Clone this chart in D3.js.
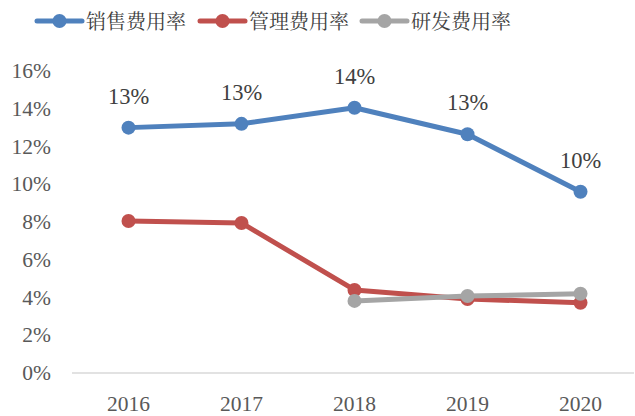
<!DOCTYPE html>
<html>
<head>
<meta charset="utf-8">
<script src="https://cdn.jsdelivr.net/npm/d3@7"></script>
</head>
<body style="margin:0">
<svg width="635" height="416" font-family="Liberation Serif" font-size="21"></svg>
<script>
// данные
const years = ["2016", "2017", "2018", "2019", "2020"];
const seriesNames = ["销售费用率", "管理费用率", "研发费用率"];
const sales = [13.0, 13.2, 14.05, 12.65, 9.6];
const admin = [8.05, 7.95, 4.4, 3.92, 3.72];
const rnd = [null, null, 3.82, 4.08, 4.2];
const salesLabels = ["13%", "13%", "14%", "13%", "10%"];
const yTicks = [0, 2, 4, 6, 8, 10, 12, 14, 16];
const colors = ["#4F81BD", "#C0504D", "#A5A5A5"];

const svg = d3.select("svg");

const scaleX = d3.scaleBand().domain(years).range([72, 637]);
const scaleY = d3.scaleLinear().domain([0, 16]).range([373, 71]);

// ось X
svg.append("line")
    .attr("x1", 72).attr("x2", 634)
    .attr("y1", scaleY(0)).attr("y2", scaleY(0))
    .attr("stroke", "#d9d9d9").attr("stroke-width", 1.5);

svg.selectAll(".xl")
    .data(years)
    .enter()
    .append("text")
    .attr("font-family", "Liberation Serif")
    .attr("font-size", 21.5)
    .attr("x", d => scaleX(d) + scaleX.bandwidth() / 2)
    .attr("y", 411)
    .attr("text-anchor", "middle")
    .attr("fill", "#595959")
    .text(d => d);

// ось Y
svg.selectAll(".yl")
    .data(yTicks)
    .enter()
    .append("text")
    .attr("font-family", "Liberation Serif")
    .attr("font-size", 21.5)
    .attr("x", 51)
    .attr("y", d => scaleY(d) + 7)
    .attr("text-anchor", "end")
    .attr("fill", "#595959")
    .text(d => d + "%");

const cx = d => scaleX(d) + scaleX.bandwidth() / 2;

function drawSeries(values, color) {
    const pts = years.map((y, i) => ({ x: y, v: values[i] })).filter(d => d.v != null);
    const line = d3.line()
        .x(d => cx(d.x))
        .y(d => scaleY(d.v));
    svg.append("path")
        .attr("d", line(pts))
        .attr("fill", "none")
        .attr("stroke", color)
        .attr("stroke-width", 5)
        .attr("stroke-linejoin", "round");
    svg.selectAll(null)
        .data(pts)
        .enter()
        .append("circle")
        .attr("cx", d => cx(d.x))
        .attr("cy", d => scaleY(d.v))
        .attr("r", 7)
        .attr("fill", color);
}

drawSeries(admin, colors[1]);
drawSeries(rnd, colors[2]);
drawSeries(sales, colors[0]);

// подписи значений
svg.selectAll(".vl")
    .data(sales)
    .enter()
    .append("text")
    .attr("font-family", "Liberation Serif")
    .attr("font-size", 22.5)
    .attr("x", (d, i) => cx(years[i]))
    .attr("y", d => scaleY(d) - 24)
    .attr("text-anchor", "middle")
    .attr("fill", "#404040")
    .text((d, i) => salesLabels[i]);

// легенда
const legendX = [37, 200, 362];
seriesNames.forEach((name, i) => {
    const g = svg.append("g").attr("transform", `translate(${legendX[i]}, 21)`);
    g.append("line")
        .attr("x1", 0).attr("x2", 45)
        .attr("stroke", colors[i]).attr("stroke-width", 5)
        .attr("stroke-linecap", "round");
    g.append("circle").attr("cx", 22.5).attr("r", 7).attr("fill", colors[i]);
    g.append("text")
        .attr("font-family", "Noto Serif CJK SC")
        .attr("font-size", 20)
        .attr("x", 49).attr("y", 8)
        .attr("fill", "#404040")
        .text(name);
});
</script>
</body>
</html>
